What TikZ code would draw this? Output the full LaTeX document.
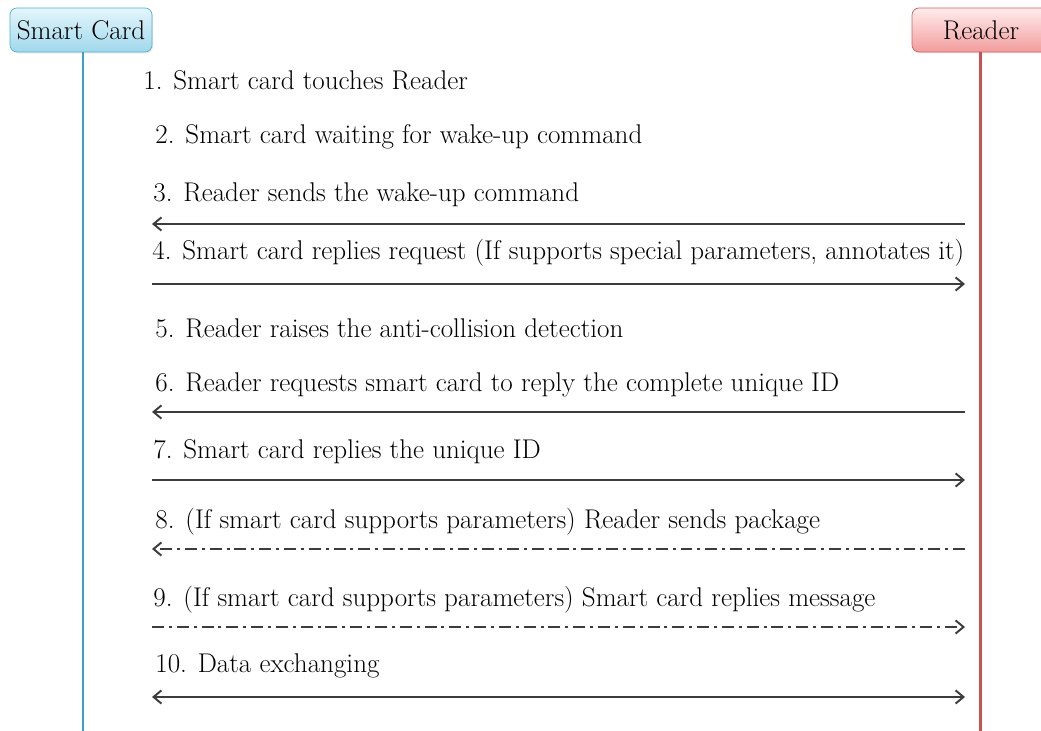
\documentclass[tikz,border=0pt]{standalone}
\usetikzlibrary{arrows.meta,shadows}
\definecolor{cardline}{RGB}{60,160,200}
\definecolor{cardedge}{RGB}{90,175,205}
\definecolor{cardtop}{RGB}{228,246,252}
\definecolor{cardbot}{RGB}{160,216,236}
\definecolor{readerline}{RGB}{200,80,80}
\definecolor{readeredge}{RGB}{210,95,95}
\definecolor{readertop}{RGB}{255,236,236}
\definecolor{readerbot}{RGB}{242,156,156}
\definecolor{msggray}{RGB}{60,60,60}

\tikzset{
  party/.style={rounded corners=4pt, minimum height=0.88cm, inner sep=0pt,
    font=\fontsize{15.4}{18}\selectfont,
    drop shadow={opacity=0.2, shadow xshift=0.6pt, shadow yshift=-0.8pt}},
  msg/.style={font=\fontsize{15.4}{18}\selectfont, anchor=west, inner sep=0pt, text=black},
  call/.style={draw=msggray, line width=1.1pt, -{Straight Barb[length=4.5pt,width=7.5pt]}},
  dashdot/.style={dash pattern=on 6.8pt off 2.8pt on 1.7pt off 2.8pt},
  lifeline/.style={line width=1.7pt}
}

\begin{document}
\begin{tikzpicture}
\useasboundingbox (0,0) rectangle (20.82,14.62);
% -- Participants --
\node[party, draw=cardedge, top color=cardtop, bottom color=cardbot,
  minimum width=2.84cm] (card) at (1.62,14.02) {Smart Card};
\node[party, draw=readeredge, top color=readertop, bottom color=readerbot,
  minimum width=2.76cm] (reader) at (19.62,14.02) {Reader};
% Lifelines
\draw[lifeline, cardline] ([xshift=0.04cm]card.south) -- ([xshift=0.04cm]card.south |- 0,0);
\draw[lifeline, readerline] ([xshift=-0.02cm]reader.south) -- ([xshift=-0.02cm]reader.south |- 0,0);
% -- Steps --
\foreach \n/\px/\py/\txt in {1/2.86/13.02/{1. Smart card touches Reader},
  2/3.10/11.88/{2. Smart card waiting for wake-up command},
  3/3.06/10.72/{3. Reader sends the wake-up command},
  4/3.04/9.56/{4. Smart card replies request (If supports special parameters, annotates it)},
  5/3.10/8.06/{5. Reader raises the anti-collision detection},
  6/3.10/6.92/{6. Reader requests smart card to reply the complete unique ID},
  7/3.06/5.58/{7. Smart card replies the unique ID},
  8/3.10/4.18/{8. (If smart card supports parameters) Reader sends package},
  9/3.06/2.62/{9. (If smart card supports parameters) Smart card replies message},
  10/3.10/1.30/{10. Data exchanging}} {
  \node[msg] (step\n) at (\px,\py) {\txt};
}
% Message ends on both lifelines
\foreach \n/\y in {3/10.14, 4/8.94, 6/6.38, 7/5.02, 8/3.64, 9/2.08, 10/0.68} {
  \coordinate (c\n) at (3.04,\y);
  \coordinate (r\n) at (19.30,\y);
}
% -- Arrows --
\draw[call] (r3) -- (c3);
\draw[call] (c4) -- (r4);
\draw[call] (r6) -- (c6);
\draw[call] (c7) -- (r7);
\draw[call, dashdot] (r8) -- (c8);
\draw[call, dashdot] (c9) -- (r9);
\draw[call, {Straight Barb[length=4.5pt,width=7.5pt]}-{Straight Barb[length=4.5pt,width=7.5pt]}] (c10) -- (r10);
\end{tikzpicture}
\end{document}
